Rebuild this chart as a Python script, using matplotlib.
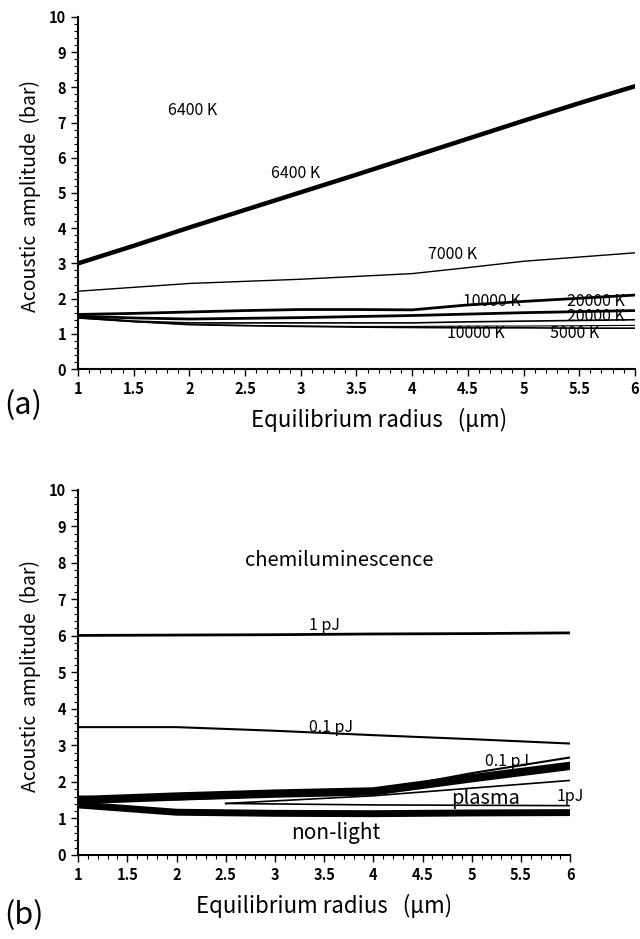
import matplotlib
matplotlib.use("Agg")
import matplotlib.pyplot as plt
from matplotlib.ticker import MultipleLocator

plt.rcParams['font.family'] = ['Noto Sans CJK JP', 'DejaVu Sans']

# panel (a): threshold curves for peak temperatures
r_a = [1, 1.5, 2, 2.5, 3, 3.5, 4, 4.5, 5, 5.5, 6]
t6400 = [3.0, 3.5, 4.02, 4.52, 5.02, 5.52, 6.03, 6.54, 7.05, 7.55, 8.03]
t7000 = [2.21, 2.32, 2.43, 2.49, 2.55, 2.63, 2.71, 2.88, 3.06, 3.18, 3.3]
t10000_hi = [1.55, 1.58, 1.62, 1.66, 1.69, 1.69, 1.68, 1.82, 1.92, 2.01, 2.1]
t20000_hi = [1.5, 1.45, 1.42, 1.44, 1.46, 1.49, 1.52, 1.56, 1.6, 1.63, 1.66]
t20000_lo = [1.48, 1.36, 1.31, 1.31, 1.31, 1.31, 1.31, 1.34, 1.36, 1.38, 1.4]
t10000_lo = [1.45, 1.35, 1.26, 1.23, 1.21, 1.19, 1.18, 1.17, 1.17, 1.16, 1.16]
t5000 = [1.45, 1.34, 1.27, 1.24, 1.22, 1.21, 1.21, 1.22, 1.22, 1.23, 1.24]

# panel (b): light emission boundaries
r_b = [1, 2, 3, 4, 5, 6]
e1pj_chem = [6.01, 6.02, 6.03, 6.05, 6.06, 6.08]
e01pj_chem = [3.5, 3.5, 3.4, 3.28, 3.17, 3.05]
band_hi = [1.5, 1.6, 1.68, 1.74, 2.1, 2.44]
e01pj_plasma = [1.6, 1.52, 1.62, 1.74, 2.24, 2.67]
r_mid = [2.5, 4, 6]
plasma_mid = [1.41, 1.62, 2.04]
e1pj_plasma = [1.41, 1.37, 1.35]
nonlight = [1.37, 1.17, 1.14, 1.13, 1.15, 1.16]

fig = plt.figure(figsize=(6.4, 9.39), dpi=100)
ax1 = fig.add_axes([0.122, 0.607, 0.870, 0.375])
ax2 = fig.add_axes([0.122, 0.0895, 0.769, 0.389])

def style(ax, xlab_pos):
    ax.set_xlim(1, 6)
    ax.set_ylim(0, 10)
    ax.spines['top'].set_visible(False)
    ax.spines['right'].set_visible(False)
    ax.spines['left'].set_linewidth(1.5)
    ax.spines['bottom'].set_linewidth(1.5)
    ax.xaxis.set_major_locator(MultipleLocator(0.5))
    ax.xaxis.set_minor_locator(MultipleLocator(0.1))
    ax.yaxis.set_major_locator(MultipleLocator(1))
    ax.yaxis.set_minor_locator(MultipleLocator(0.2))
    ax.set_xticks([1, 1.5, 2, 2.5, 3, 3.5, 4, 4.5, 5, 5.5, 6])
    ax.set_xticklabels(['1', '1.5', '2', '2.5', '3', '3.5', '4', '4.5', '5', '5.5', '6'])
    ax.tick_params(which='major', length=5, width=1, labelsize=10.5, direction='out')
    ax.tick_params(which='minor', length=3, width=0.8, direction='out')
    for lab in ax.get_xticklabels() + ax.get_yticklabels():
        lab.set_fontweight('bold')
    ax.set_xlabel('Equilibrium radius   (\u03bcm)', fontsize=16, labelpad=8, x=xlab_pos)
    ax.set_ylabel('Acoustic  amplitude  (bar)', fontsize=14, labelpad=6, y=0.49)

style(ax1, 0.54)
ax1.plot(r_a, t6400, color='black', lw=3.2)
ax1.plot(r_a, t7000, color='black', lw=1.0)
ax1.plot(r_a, t10000_hi, color='black', lw=2.0)
ax1.plot(r_a, t20000_hi, color='black', lw=2.0)
ax1.plot(r_a, t20000_lo, color='black', lw=1.2)
ax1.plot(r_a, t10000_lo, color='black', lw=1.2)
ax1.plot(r_a, t5000, color='black', lw=0.8)

kw = dict(fontsize=11.5, color='black', va='center')
ax1.text(1.81, 7.34, '6400 K', **kw)
ax1.text(2.73, 5.55, '6400 K', **kw)
ax1.text(4.14, 3.25, '7000 K', **kw)
ax1.text(4.46, 1.92, '10000 K', **kw)
ax1.text(5.39, 1.92, '20000 K', **kw)
ax1.text(5.39, 1.48, '20000 K', **kw)
ax1.text(4.31, 1.0, '10000 K', **kw)
ax1.text(5.24, 1.0, '5000 K', **kw)
fig.text(0.006, 0.568, '(a)', fontsize=22, va='center')

style(ax2, 0.5)
ax2.plot(r_b, e1pj_chem, color='black', lw=2.0)
ax2.plot(r_b, e01pj_chem, color='black', lw=1.5)
ax2.plot(r_b, band_hi, color='black', lw=6.0)
ax2.plot(r_b, e01pj_plasma, color='black', lw=1.5)
ax2.plot(r_mid, plasma_mid, color='black', lw=1.2)
ax2.plot(r_mid, e1pj_plasma, color='black', lw=1.2)
ax2.plot(r_b, nonlight, color='black', lw=5.0)

ax2.text(3.65, 8.07, 'chemiluminescence', fontsize=14.5, ha='center', va='center')
ax2.text(3.35, 6.27, '1 pJ', **kw)
ax2.text(3.35, 3.48, '0.1 pJ', **kw)
ax2.text(5.13, 2.56, '0.1 pJ', **kw)
ax2.text(4.79, 1.55, 'plasma', fontsize=14.5, va='center')
ax2.text(5.86, 1.6, '1pJ', **kw)
ax2.text(3.62, 0.6, 'non-light', fontsize=15, ha='center', va='center')
fig.text(0.006, 0.025, '(b)', fontsize=22, va='center')

fig.savefig('out.png', dpi=100)
